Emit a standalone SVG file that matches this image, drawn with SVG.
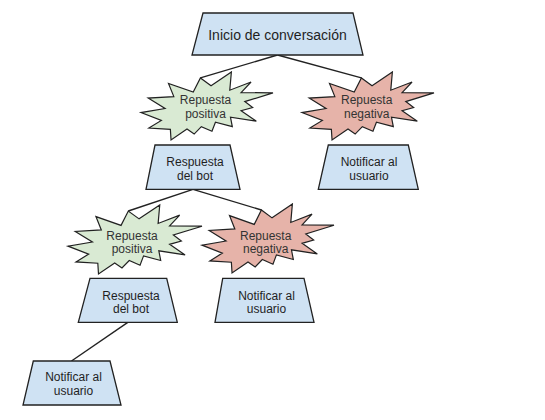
<svg xmlns="http://www.w3.org/2000/svg" xmlns:xlink="http://www.w3.org/1999/xlink" width="545" height="420" viewBox="0 0 545 420">
<style>
.box{fill:#cfe2f3;stroke:#222;stroke-width:1.3;stroke-linejoin:miter}
.pos{fill:#d9ead3}
.neg{fill:#e6b3a9}
.seal{stroke:#222;stroke-width:1.2;stroke-linejoin:miter;vector-effect:non-scaling-stroke}
.conn{fill:none;stroke:#222;stroke-width:1.4}
text{font-family:"Liberation Sans",Arial,sans-serif;font-size:12px;fill:#1f1f1f;text-anchor:middle}
.title{font-size:14px}
.st{fill:#333}
</style>
<defs>
<path id="seal" class="seal" d="M530.6,201 L684.7,0 L672.5,267.5 L833.7,146.9 L758.3,302.4 L1000,307.6 L786.3,435.3 L845.8,522.7 L758.3,569.9 L873.9,723.7 L677.8,664.4 L691.8,804.2 L563.9,737.7 L537.6,872.3 L457,804.2 L402.8,912.6 L348.5,839.1 L227.6,1000 L222.5,844.4 L59.5,825.2 L154.2,711.6 L0,596.2 L182.2,536.7 L54.3,382.9 L248.7,361.9 L208.4,167.8 L395.8,295.5 L450.1,87.4 Z"/>
</defs>
<rect width="545" height="420" fill="#fff"/>
<g id="connectors">
<path class="conn" d="M277.5,55 L200.4,77.9"/>
<path class="conn" d="M277.5,55 L361.4,77.9"/>
<path class="conn" d="M193,189.3 L128.3,211"/>
<path class="conn" d="M193,189.3 L261.4,210"/>
<path class="conn" d="M127.8,322.3 L71.5,361"/>
</g>
<g id="inicio">
<polygon class="box" points="203,13 353,13 363,55 192,55"/>
<text class="title" x="277.5" y="39.5">Inicio de conversación</text>
</g>
<g id="pos1">
<use xlink:href="#seal" class="pos" transform="translate(141,72) scale(0.132,0.068)"/>
<text class="st" x="205.5" y="104.2">Repuesta</text>
<text class="st" x="205.5" y="117.7">positiva</text>
</g>
<g id="neg1">
<use xlink:href="#seal" class="neg" transform="translate(302,72) scale(0.132,0.068)"/>
<text class="st" x="366.7" y="104.2">Repuesta</text>
<text class="st" x="366.7" y="117.7">negativa</text>
</g>
<g id="bot1">
<polygon class="box" points="155,145 230,145 240,189.3 146,189.3"/>
<text x="195" y="166.2">Respuesta</text>
<text x="195" y="179.7">del bot</text>
</g>
<g id="notif1">
<polygon class="box" points="328.3,145 408.3,145 418.3,189.3 318.3,189.3"/>
<text x="369" y="166.2">Notificar al</text>
<text x="369" y="179.7">usuario</text>
</g>
<g id="pos2">
<use xlink:href="#seal" class="pos" transform="translate(68,205) scale(0.134,0.069)"/>
<text class="st" x="132" y="239.5">Repuesta</text>
<text class="st" x="132" y="253">positiva</text>
</g>
<g id="neg2">
<use xlink:href="#seal" class="neg" transform="translate(202,204) scale(0.132,0.069)"/>
<text class="st" x="265.7" y="239.5">Repuesta</text>
<text class="st" x="265.7" y="253">negativa</text>
</g>
<g id="bot2">
<polygon class="box" points="90,278.3 166.7,278.3 177.3,322.3 78.3,322.3"/>
<text x="131" y="299.5">Respuesta</text>
<text x="131" y="313">del bot</text>
</g>
<g id="notif2">
<polygon class="box" points="222.7,278.3 304,278.3 314,322.3 215,322.3"/>
<text x="266.5" y="299.5">Notificar al</text>
<text x="266.5" y="313">usuario</text>
</g>
<g id="notif3">
<polygon class="box" points="33.3,361 110,361 121,405 23,405"/>
<text x="73.5" y="381">Notificar al</text>
<text x="73.5" y="394.5">usuario</text>
</g>
</svg>
